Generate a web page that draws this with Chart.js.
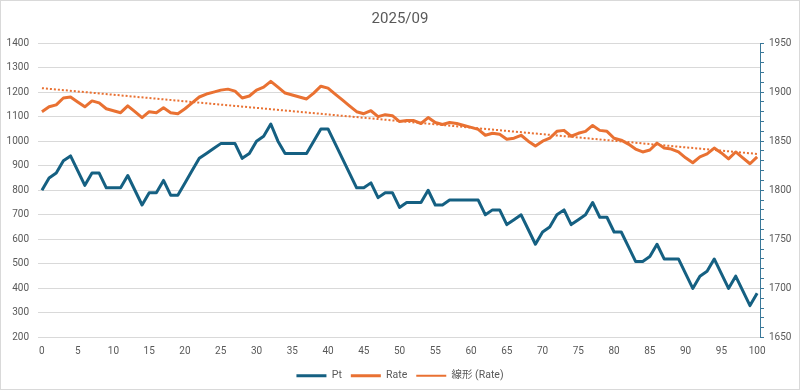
<!DOCTYPE html>
<html>
<head>
<meta charset="utf-8">
<script src="https://cdn.jsdelivr.net/npm/chart.js@4.4.1/dist/chart.umd.min.js"></script>
<style>
  html, body { margin: 0; padding: 0; background: #ffffff; }
  #wrap { width: 800px; height: 391px; position: relative; }
</style>
</head>
<body>
<div id="wrap"><canvas id="myChart"></canvas></div>
<script>
// x positions (days / index)
const xValues = [
    0, 1, 2, 3, 4, 5, 6, 7, 8, 9, 10, 11, 12, 13, 14, 15, 16, 17, 18, 19,
    20, 21, 22, 23, 24, 25, 26, 27, 28, 29, 30, 31, 32, 33, 34, 35, 36, 37, 38, 39,
    40, 41, 42, 43, 44, 45, 46, 47, 48, 49, 50, 51, 52, 53, 54, 55, 56, 57, 58, 59,
    60, 61, 62, 63, 64, 65, 66, 67, 68, 69, 70, 71, 72, 73, 74, 75, 76, 77, 78, 79,
    80, 81, 82, 83, 84, 85, 86, 87, 88, 89, 90, 91, 92, 93, 94, 95, 96, 97, 98, 99,
    100
];

// Pt (left axis)
const ptValues = [
    800, 850, 870, 920, 940, 880, 820, 870, 870, 810,
    810, 810, 860, 800, 740, 790, 790, 840, 780, 780,
    830, 880, 930, 950, 970, 990, 990, 990, 930, 950,
    1000, 1020, 1070, 1000, 950, 950, 950, 950, 1000, 1050,
    1050, 990, 930, 870, 810, 810, 830, 770, 790, 790,
    730, 750, 750, 750, 800, 740, 740, 760, 760, 760,
    760, 760, 700, 720, 720, 660, 680, 700, 640, 580,
    630, 650, 700, 720, 660, 680, 700, 750, 690, 690,
    630, 630, 570, 510, 510, 530, 580, 520, 520, 520,
    460, 400, 450, 470, 520, 460, 400, 450, 390, 330,
    380
];

// Rate (right axis)
const rateValues = [
    1880, 1885, 1887, 1894, 1895, 1890, 1885, 1891, 1889, 1883,
    1881, 1879, 1886, 1880, 1874, 1880, 1879, 1884, 1879, 1878,
    1883, 1889, 1895, 1898, 1900, 1902, 1903, 1901, 1894, 1896,
    1902, 1905, 1911, 1905, 1899, 1897, 1895, 1893, 1899, 1906,
    1904, 1898, 1892, 1886, 1880, 1878, 1881, 1875, 1877, 1876,
    1870, 1871, 1871, 1868, 1874, 1869, 1867, 1869, 1868, 1866,
    1864, 1862, 1856, 1858, 1857, 1852, 1853, 1856, 1850, 1845,
    1850, 1853, 1860, 1861, 1855, 1858, 1860, 1866, 1861, 1860,
    1853, 1851, 1847, 1842, 1839, 1841, 1848, 1843, 1842, 1839,
    1833, 1828, 1834, 1837, 1843, 1838, 1832, 1839, 1833, 1827,
    1834
];

// linear trendline of Rate, end points
const trendX = [0, 100];
const trendValues = [1904, 1837];

const xTicks = [0, 5, 10, 15, 20, 25, 30, 35, 40, 45, 50, 55, 60, 65, 70, 75, 80, 85, 90, 95, 100];

const textColor = '#595959';
const fontFamily = 'Roboto, "Noto Sans CJK JP", sans-serif';

const toPoints = (xs, ys) => xs.map((x, i) => ({ x: x, y: ys[i] }));

// white background + thin chart border
const chartFrame = {
    id: 'chartFrame',
    beforeDraw(chart) {
        const ctx = chart.ctx;
        ctx.save();
        ctx.fillStyle = '#ffffff';
        ctx.fillRect(0, 0, chart.width, chart.height);
        ctx.strokeStyle = '#d9d9d9';
        ctx.lineWidth = 1;
        ctx.strokeRect(0.5, 0.5, chart.width - 1, chart.height - 2);
        ctx.restore();
    }
};

const ctx = document.getElementById('myChart').getContext('2d');
const myChart = new Chart(ctx, {
    type: 'line',
    data: {
        datasets: [
            {
                label: 'Pt',
                data: toPoints(xValues, ptValues),
                yAxisID: 'y',
                borderColor: '#156082',
                backgroundColor: '#156082',
                borderWidth: 3,
                pointRadius: 0,
                borderJoinStyle: 'round',
                tension: 0
            },
            {
                label: 'Rate',
                data: toPoints(xValues, rateValues),
                yAxisID: 'y1',
                borderColor: '#E97132',
                backgroundColor: '#E97132',
                borderWidth: 3,
                pointRadius: 0,
                borderJoinStyle: 'round',
                tension: 0
            },
            {
                label: '線形 (Rate)',
                data: toPoints(trendX, trendValues),
                yAxisID: 'y1',
                borderColor: '#E97132',
                backgroundColor: '#E97132',
                borderWidth: 2,
                borderDash: [2, 2],
                pointRadius: 0,
                tension: 0
            }
        ]
    },
    options: {
        responsive: true,
        maintainAspectRatio: false,
        animation: false,
        layout: { padding: { top: 0, bottom: 0, left: 0, right: 0 } },
        scales: {
            x: {
                type: 'linear',
                min: -0.55,
                max: 100.4,
                afterBuildTicks: scale => { scale.ticks = xTicks.map(v => ({ value: v })); },
                afterFit: scale => { scale.height = 24; },
                grid: { display: false, drawTicks: false },
                border: { display: false },
                ticks: {
                    color: textColor,
                    font: { family: fontFamily, size: 10 },
                    padding: 8,
                    maxRotation: 0,
                    autoSkip: false,
                    callback: v => v
                }
            },
            y: {
                position: 'left',
                min: 200,
                max: 1400,
                afterFit: scale => { scale.width = 38; },
                grid: { color: '#d9d9d9', drawTicks: false },
                border: { display: false },
                ticks: {
                    stepSize: 100,
                    color: textColor,
                    font: { family: fontFamily, size: 10 },
                    padding: 9,
                    callback: v => v
                }
            },
            y1: {
                position: 'right',
                min: 1650,
                max: 1950,
                afterFit: scale => { scale.width = 40; },
                grid: { drawOnChartArea: false, color: '#3a7899', tickLength: 4 },
                border: { display: true, color: '#3a7899', width: 1 },
                ticks: {
                    stepSize: 10,
                    autoSkip: false,
                    color: textColor,
                    font: { family: fontFamily, size: 10 },
                    padding: 5,
                    callback: v => (v % 50 === 0 ? v : '')
                }
            }
        },
        plugins: {
            title: {
                display: true,
                text: '2025/09',
                color: textColor,
                font: { family: fontFamily, size: 15, weight: 'normal' },
                padding: { top: 10, bottom: 15 }
            },
            legend: {
                display: true,
                position: 'bottom',
                labels: {
                    color: textColor,
                    font: { family: fontFamily, size: 10.5 },
                    usePointStyle: true,
                    pointStyle: 'line',
                    pointStyleWidth: 30,
                    padding: 9
                }
            },
            tooltip: { enabled: false }
        }
    },
    plugins: [chartFrame]
});
</script>
</body>
</html>
